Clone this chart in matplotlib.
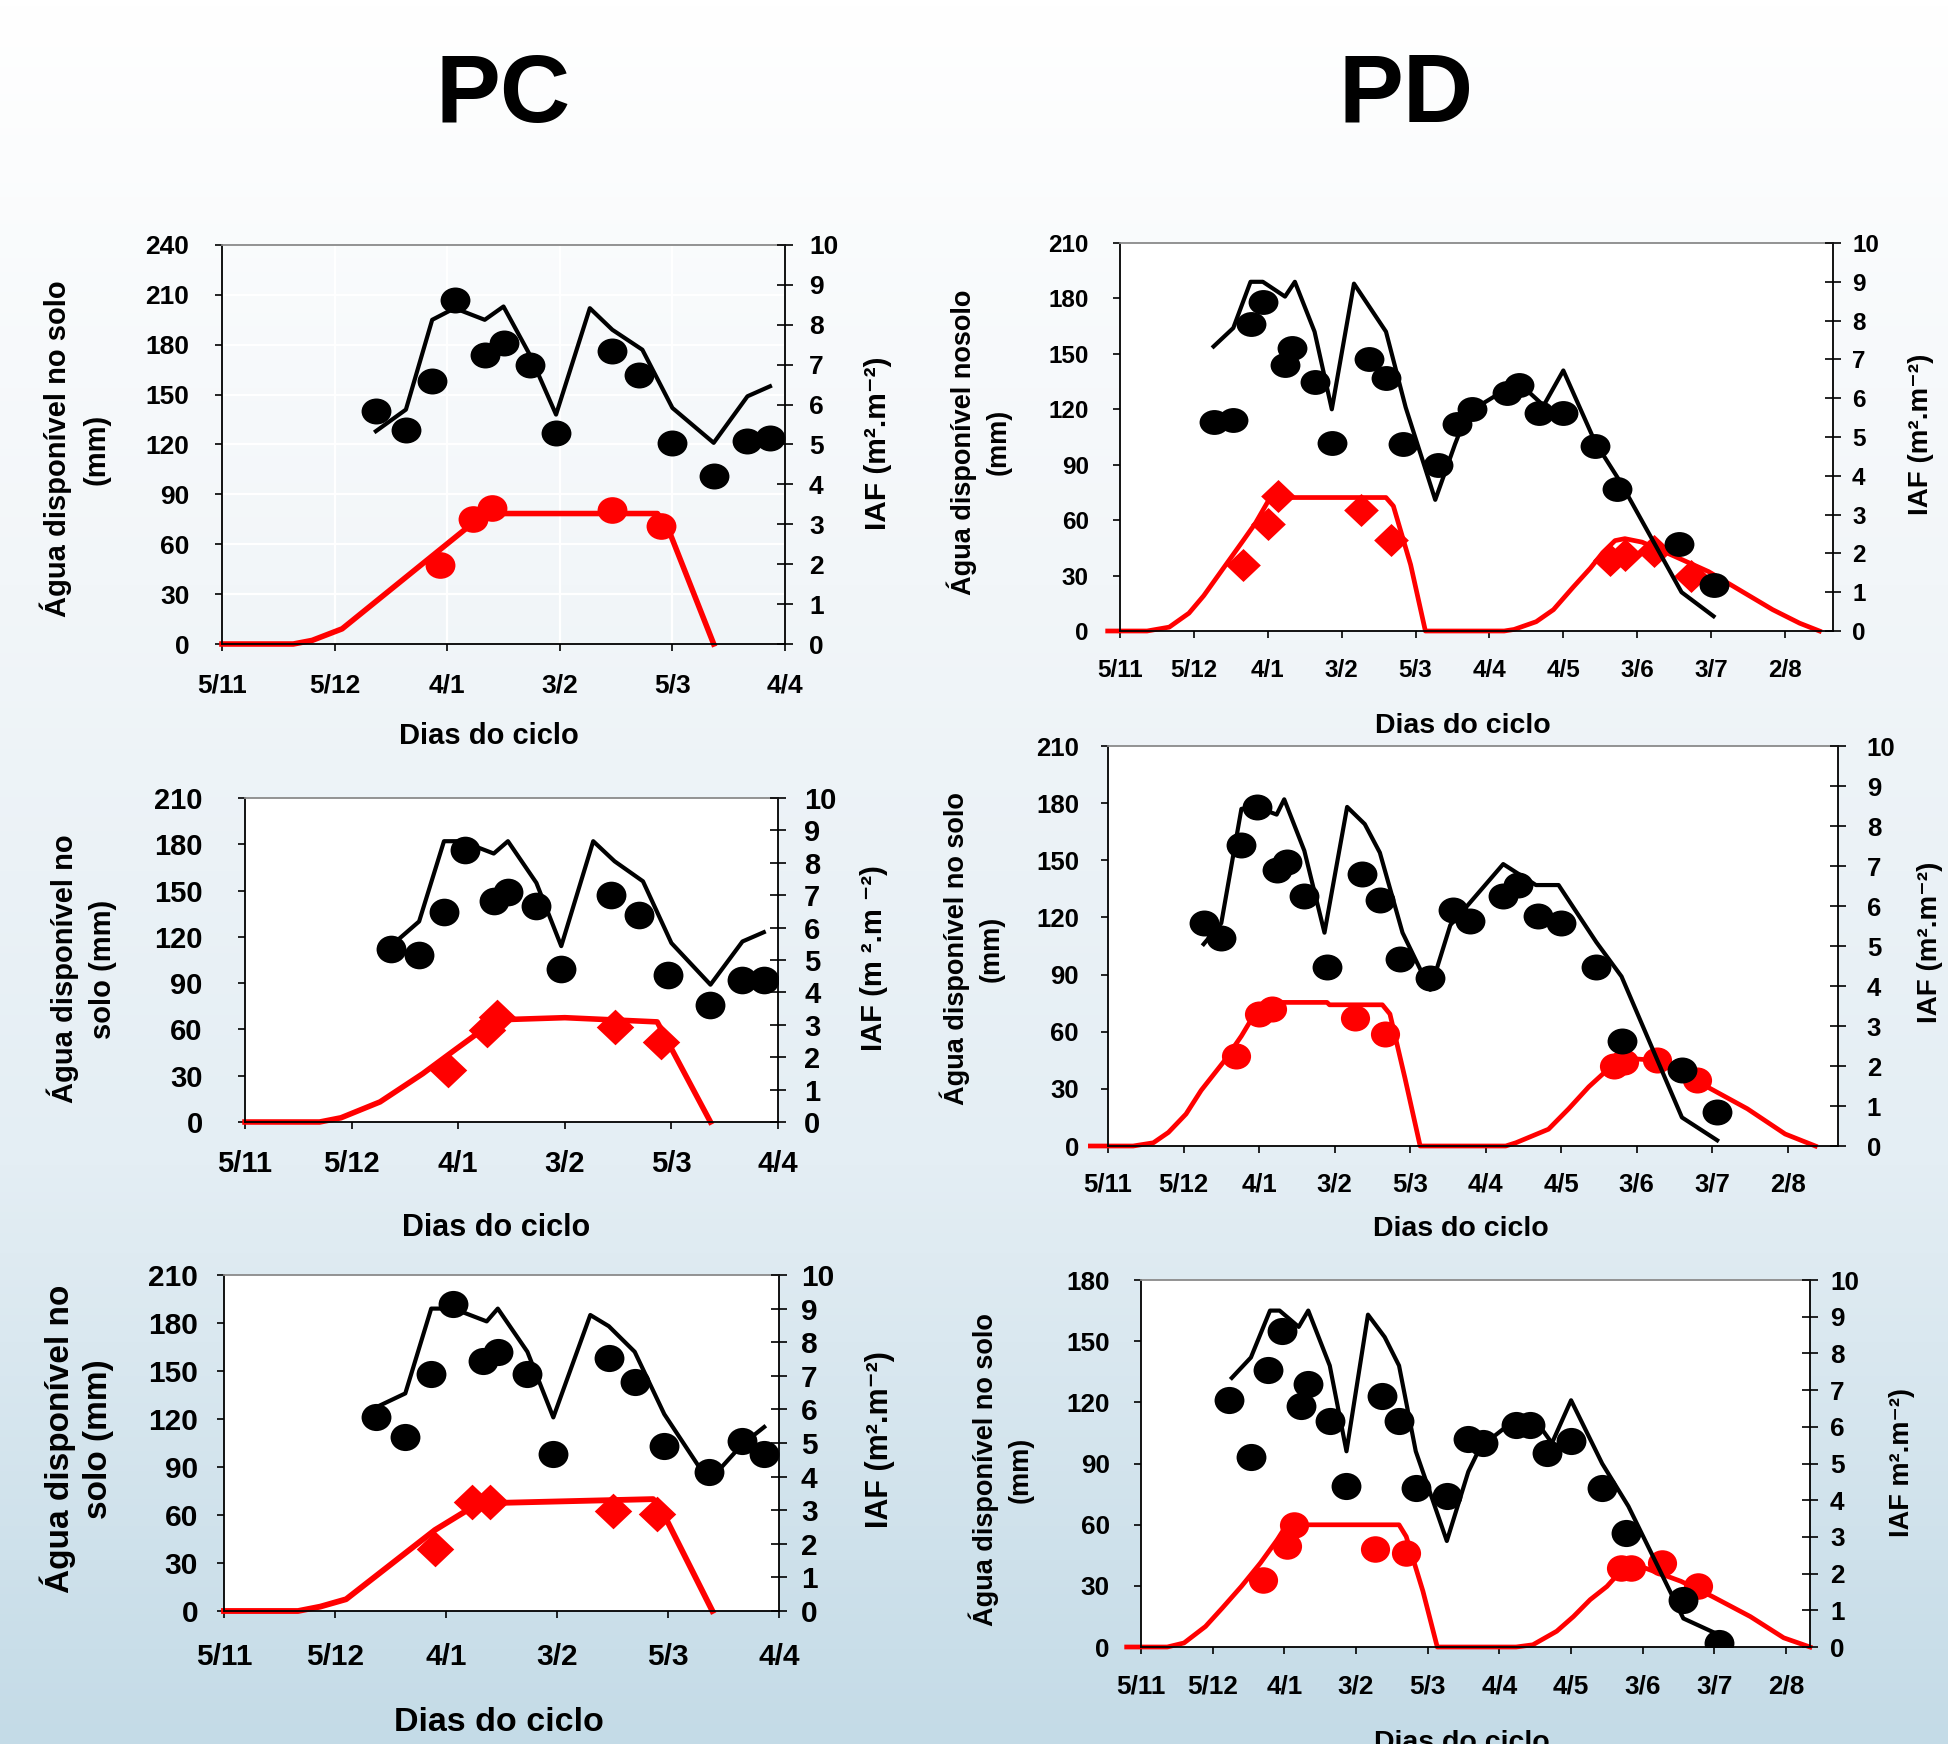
import matplotlib.pyplot as plt
import numpy as np
from matplotlib.colors import LinearSegmentedColormap
from matplotlib.path import Path
from matplotlib.transforms import Affine2D

plt.rcParams['font.family'] = ['Liberation Sans', 'DejaVu Sans']
plt.rcParams['font.weight'] = 'bold'

W, H = 1948, 1744

# eixo x em dias a partir de 5/11, um rotulo a cada 30 dias
pc_labels = ['5/11', '5/12', '4/1', '3/2', '5/3', '4/4']
pd_labels = ['5/11', '5/12', '4/1', '3/2', '5/3', '4/4', '4/5', '3/6', '3/7', '2/8']

# ---------------- PC, painel 1 ----------------
pc1_agua_sim_x = [41, 49, 56, 62, 70, 75, 82, 89, 98, 104, 112, 120, 131, 140, 146]
pc1_agua_sim_y = [128, 141, 195, 202, 195, 203, 174, 138, 202, 189, 177, 142, 121, 149, 155]
pc1_agua_obs_x = [41, 49, 56, 62, 70, 75, 82, 89, 104, 111, 120, 131, 140, 146]
pc1_agua_obs_y = [140, 129, 158, 207, 174, 181, 168, 127, 176, 162, 121, 101, 122, 124]
pc1_iaf_sim_x = [0, 19, 24, 32, 68, 71, 116, 119, 131]
pc1_iaf_sim_y = [0, 0, 0.09, 0.38, 3.12, 3.27, 3.27, 2.86, 0]
pc1_iaf_obs_x = [58, 67, 72, 104, 117]
pc1_iaf_obs_y = [1.98, 3.14, 3.41, 3.35, 2.95]

# ---------------- PC, painel 2 ----------------
pc2_agua_sim_x = [41, 49, 56, 61, 70, 74, 82, 89, 98, 104, 112, 120, 131, 140, 146]
pc2_agua_sim_y = [114, 130, 182, 182, 174, 182, 155, 114, 182, 169, 156, 116, 89, 117, 123]
pc2_agua_obs_x = [41, 49, 56, 62, 70, 74, 82, 89, 103, 111, 119, 131, 140, 146]
pc2_agua_obs_y = [112, 108, 136, 176, 143, 149, 140, 99, 147, 134, 95, 76, 92, 92]
pc2_iaf_sim_x = [0, 21, 27, 38, 50, 59, 68, 73, 90, 116, 131]
pc2_iaf_sim_y = [0, 0, 0.13, 0.62, 1.49, 2.22, 2.94, 3.16, 3.22, 3.09, 0]
pc2_iaf_obs_x = [57, 68, 71, 104, 117]
pc2_iaf_obs_y = [1.62, 2.84, 3.23, 2.94, 2.47]

# ---------------- PC, painel 3 ----------------
pc3_agua_sim_x = [39, 49, 56, 62, 71, 74, 82, 89, 99, 104, 111, 119, 131, 140, 146]
pc3_agua_sim_y = [125, 136, 189, 189, 181, 189, 162, 121, 185, 178, 162, 123, 81, 104, 115]
pc3_agua_obs_x = [41, 49, 56, 62, 70, 74, 82, 89, 104, 111, 119, 131, 140, 146]
pc3_agua_obs_y = [121, 109, 148, 192, 156, 162, 148, 98, 158, 143, 103, 87, 106, 98]
pc3_iaf_sim_x = [0, 20, 26, 33, 57, 65, 68, 116, 119, 132]
pc3_iaf_sim_y = [0, 0, 0.13, 0.35, 2.41, 2.95, 3.20, 3.33, 2.85, 0]
pc3_iaf_obs_x = [57, 67, 72, 105, 117]
pc3_iaf_obs_y = [1.86, 3.25, 3.25, 2.98, 2.90]

# ---------------- PD, painel 1 ----------------
pd1_agua_sim_x = [38, 46, 53, 58, 67, 71, 79, 86, 95, 108, 116, 128, 136, 141, 157, 163, 172, 180,
                  193, 203, 228, 241]
pd1_agua_sim_y = [154, 164, 189, 189, 181, 189, 162, 120, 188, 162, 121, 71, 101, 118, 131, 133, 122, 141,
                  102, 81, 21, 8]
pd1_agua_obs_x = [38, 46, 53, 58, 67, 70, 79, 86, 101, 108, 115, 129, 137, 143, 157, 162, 170, 180,
                  193, 202, 227, 241]
pd1_agua_obs_y = [113, 114, 166, 178, 144, 153, 135, 102, 147, 137, 101, 90, 112, 120, 129, 133, 118, 118,
                  100, 77, 47, 25]
pd1_iaf_sim_x = [-5, 11, 20, 28, 34, 42, 50, 55, 60, 64, 108, 111, 118, 124, 156, 160, 169, 176, 184,
                 191, 196, 201, 205, 212, 225, 239, 252, 265, 276, 284]
pd1_iaf_sim_y = [0, 0, 0.1, 0.46, 0.91, 1.62, 2.33, 2.78, 3.33, 3.44, 3.44, 3.22, 1.71, 0, 0, 0.04, 0.24,
                 0.55, 1.13, 1.62, 2.02, 2.33, 2.38, 2.29, 1.93, 1.53, 1.04, 0.55, 0.20, 0]
pd1_iaf_obs_x = [50, 60, 64, 98, 110, 199, 205, 217, 232]
pd1_iaf_obs_y = [1.69, 2.76, 3.49, 3.11, 2.35, 1.84, 1.96, 2.05, 1.42]

# ---------------- PD, painel 2 ----------------
pd2_agua_sim_x = [38, 45, 53, 59, 67, 70, 78, 86, 95, 102, 108, 117, 128, 136, 142, 157, 170, 179,
                  194, 204, 228, 242]
pd2_agua_sim_y = [106, 117, 177, 178, 174, 182, 155, 112, 178, 169, 154, 112, 82, 116, 125, 148, 137, 137,
                  107, 89, 15, 3]
pd2_agua_obs_x = [38, 45, 53, 59, 67, 71, 78, 87, 101, 108, 116, 128, 137, 144, 157, 163, 171, 180,
                  194, 204, 228, 242]
pd2_agua_obs_y = [117, 109, 158, 178, 145, 149, 131, 94, 143, 129, 98, 88, 124, 118, 131, 137, 121, 117,
                  94, 55, 40, 18]
pd2_iaf_sim_x = [-7, 10, 18, 24, 31, 37, 46, 53, 59, 63, 87, 88, 109, 112, 118, 124, 158, 162, 175, 183,
                 191, 199, 204, 216, 238, 254, 269, 281]
pd2_iaf_sim_y = [0, 0, 0.08, 0.34, 0.80, 1.39, 2.11, 2.75, 3.38, 3.59, 3.59, 3.53, 3.53, 3.30, 1.69, 0, 0,
                 0.08, 0.42, 0.93, 1.48, 1.94, 2.20, 2.15, 1.48, 0.93, 0.30, 0]
pd2_iaf_obs_x = [51, 60, 65, 98, 110, 201, 205, 218, 234]
pd2_iaf_obs_y = [2.24, 3.30, 3.42, 3.20, 2.81, 2.01, 2.10, 2.16, 1.65]

# ---------------- PD, painel 3 ----------------
pd3_agua_sim_x = [38, 46, 54, 58, 66, 70, 79, 86, 95, 102, 108, 115, 128, 137, 142, 156, 164, 172, 180,
                  193, 204, 227, 240]
pd3_agua_sim_y = [132, 142, 165, 165, 157, 165, 138, 96, 163, 152, 138, 96, 52, 86, 98, 111, 113, 100, 121,
                  90, 69, 14, 7]
pd3_agua_obs_x = [37, 46, 53, 59, 67, 70, 79, 86, 101, 108, 115, 128, 137, 143, 157, 163, 170, 180,
                  193, 203, 227, 242]
pd3_agua_obs_y = [121, 93, 136, 155, 118, 129, 111, 79, 123, 111, 78, 74, 102, 100, 109, 109, 95, 101,
                  78, 56, 23, 2]
pd3_iaf_sim_x = [-6, 11, 18, 27, 34, 42, 50, 57, 61, 108, 111, 118, 124, 157, 164, 174, 181, 188, 195,
                 200, 204, 211, 226, 239, 255, 269, 280]
pd3_iaf_sim_y = [0, 0, 0.11, 0.56, 1.06, 1.65, 2.29, 2.92, 3.33, 3.33, 3.01, 1.52, 0, 0, 0.06, 0.43, 0.83,
                 1.29, 1.65, 2.01, 2.11, 2.15, 1.79, 1.38, 0.83, 0.25, 0]
pd3_iaf_obs_x = [51, 61, 64, 98, 111, 201, 205, 218, 233]
pd3_iaf_obs_y = [1.83, 2.74, 3.33, 2.68, 2.56, 2.15, 2.15, 2.29, 1.65]


def ellipse(ratio):
    return Path.unit_circle().transformed(Affine2D().scale(ratio, 1))


diamond = Path([(0, 0.95), (1, 0), (0, -0.95), (-1, 0), (0, 0.95)],
               [Path.MOVETO, Path.LINETO, Path.LINETO, Path.LINETO, Path.CLOSEPOLY])

fig = plt.figure(figsize=(W / 100, H / 100), dpi=100)

# fundo em degrade (branco -> azul claro)
bg = fig.add_axes([0, 0, 1, 1], zorder=-10)
cmap = LinearSegmentedColormap.from_list('fundo', ['#ffffff', '#f2f6f9', '#e4eef4', '#c4dbe7'])
bg.imshow(np.linspace(0, 1, 256)[:, None], aspect='auto', cmap=cmap, extent=[0, 1, 0, 1], origin='upper')
bg.axis('off')

fig.text(503 / W, 1 - 122 / H, 'PC', fontsize=70, ha='center', va='baseline')
fig.text(1406 / W, 1 - 122 / H, 'PD', fontsize=70, ha='center', va='baseline')


def painel(box, ymax, labels, xmax, agua_sim, agua_obs, iaf_sim, iaf_obs, st):
    l, r, t, b = box
    ax = fig.add_axes([l / W, 1 - b / H, (r - l) / W, (b - t) / H])
    ax2 = ax.twinx()
    ax2.set_ylim(0, 10)
    ax2.set_yticks(range(0, 11))
    ax2.patch.set_visible(False)
    ax.set_ylim(0, ymax)
    ax.set_yticks(range(0, ymax + 1, 30))
    ax.set_xlim(0, xmax)
    ax.set_xticks(range(0, 30 * len(labels), 30))
    ax.set_xticklabels(labels)

    if st.get('grid'):
        # painel sem fundo branco, com grade branca
        ax.patch.set_visible(False)
        ax.grid(True, color='white', lw=1.6)
        ax.set_axisbelow(True)
    else:
        ax.patch.set_facecolor('white')

    # IAF: desenhado no eixo da esquerda, na escala do eixo da direita
    ax.plot(iaf_sim[0], iaf_sim[1], color='#ff0000', lw=st['lw_red'], clip_on=False,
            transform=ax2.transData, zorder=2)
    ax.plot(iaf_obs[0], iaf_obs[1], ls='none', marker=st['red_marker'], ms=st['ms_red'],
            color='#ff0000', mew=0, transform=ax2.transData, zorder=2.1)

    # agua disponivel
    ax.plot(agua_sim[0], agua_sim[1], color='black', lw=3.0, zorder=2.2)
    ax.plot(agua_obs[0], agua_obs[1], ls='none', marker=ellipse(st['ratio']), ms=21.5,
            color='black', mew=0, zorder=2.3)
    ax.set_ylim(0, ymax)
    ax.set_xlim(0, xmax)

    for s in ax2.spines.values():
        s.set_visible(False)
    for k in ['left', 'right', 'bottom']:
        ax.spines[k].set_color('black')
        ax.spines[k].set_linewidth(1.3)
    ax.spines['top'].set_color('#8a8a8a')
    ax.spines['top'].set_linewidth(1.3)

    fs = st['fs']
    pl, pb, pr = st['pads']
    ax.tick_params(axis='y', direction='out', length=5.4, width=1.2, labelsize=fs, pad=pl)
    ax.tick_params(axis='x', direction='out', length=5, width=1.2, labelsize=fs, pad=pb)
    ax2.tick_params(axis='y', direction='inout', length=11.5, width=1.2, labelsize=fs, pad=pr)

    x, y = st['ylab_pos']
    fig.text(x / W, 1 - y / H, st['ylab'], rotation=90, ha='center', va='center',
             multialignment='center', fontsize=st['ylab_fs'], linespacing=st['ls'])
    x, y = st['xlab_pos']
    fig.text(x / W, 1 - y / H, 'Dias do ciclo', ha='center', va='baseline', fontsize=st['xlab_fs'])
    x, y = st['rlab_pos']
    fig.text(x / W, 1 - y / H, st['rlab'], rotation=90, ha='center', va='center', fontsize=st['rlab_fs'])


painel((222, 785, 245, 644), 240, pc_labels, 150,
       (pc1_agua_sim_x, pc1_agua_sim_y), (pc1_agua_obs_x, pc1_agua_obs_y),
       (pc1_iaf_sim_x, pc1_iaf_sim_y), (pc1_iaf_obs_x, pc1_iaf_obs_y),
       dict(lw_red=4.0, red_marker=ellipse(1.12), ms_red=21.5, ratio=1.15, grid=True,
            fs=19, pads=(18, 16, 11.5),
            ylab='Água disponível no solo\n(mm)', ylab_fs=21, ylab_pos=(75, 449), ls=1.5,
            xlab_pos=(489, 744), xlab_fs=21,
            rlab='IAF (m².m⁻²)', rlab_pos=(878, 443), rlab_fs=21.5))

painel((1120, 1833, 243, 631), 210, pd_labels, 289.5,
       (pd1_agua_sim_x, pd1_agua_sim_y), (pd1_agua_obs_x, pd1_agua_obs_y),
       (pd1_iaf_sim_x, pd1_iaf_sim_y), (pd1_iaf_obs_x, pd1_iaf_obs_y),
       dict(lw_red=3.4, red_marker=diamond, ms_red=25, ratio=1.2,
            fs=17.5, pads=(17, 15, 8),
            ylab='Água disponível nosolo\n(mm)', ylab_fs=19.5, ylab_pos=(979, 442), ls=1.45,
            xlab_pos=(1463, 733), xlab_fs=20.5,
            rlab='IAF (m².m⁻²)', rlab_pos=(1921, 434), rlab_fs=20))

painel((245, 778, 798, 1122), 210, pc_labels, 150,
       (pc2_agua_sim_x, pc2_agua_sim_y), (pc2_agua_obs_x, pc2_agua_obs_y),
       (pc2_iaf_sim_x, pc2_iaf_sim_y), (pc2_iaf_obs_x, pc2_iaf_obs_y),
       dict(lw_red=4.0, red_marker=diamond, ms_red=27, ratio=1.08,
            fs=21, pads=(25, 15, 13),
            ylab='Água disponível no\nsolo (mm)', ylab_fs=21, ylab_pos=(82, 969), ls=1.45,
            xlab_pos=(496, 1236), xlab_fs=22,
            rlab='IAF (m ².m ⁻²)', rlab_pos=(874, 958), rlab_fs=21))

painel((1108, 1838, 746, 1146), 210, pd_labels, 290,
       (pd2_agua_sim_x, pd2_agua_sim_y), (pd2_agua_obs_x, pd2_agua_obs_y),
       (pd2_iaf_sim_x, pd2_iaf_sim_y), (pd2_iaf_obs_x, pd2_iaf_obs_y),
       dict(lw_red=3.4, red_marker=ellipse(1.12), ms_red=21, ratio=1.15,
            fs=18.5, pads=(15.5, 14.4, 15),
            ylab='Água disponível no solo\n(mm)', ylab_fs=19.5, ylab_pos=(972, 949), ls=1.45,
            xlab_pos=(1461, 1236), xlab_fs=20.5,
            rlab='IAF (m².m⁻²)', rlab_pos=(1930, 942), rlab_fs=20))

painel((224, 779, 1275, 1611), 210, pc_labels, 150,
       (pc3_agua_sim_x, pc3_agua_sim_y), (pc3_agua_obs_x, pc3_agua_obs_y),
       (pc3_iaf_sim_x, pc3_iaf_sim_y), (pc3_iaf_obs_x, pc3_iaf_obs_y),
       dict(lw_red=4.2, red_marker=diamond, ms_red=27, ratio=1.1,
            fs=21.5, pads=(13.3, 17.8, 10),
            ylab='Água disponível no\nsolo (mm)', ylab_fs=24, ylab_pos=(77, 1439), ls=1.3,
            xlab_pos=(499, 1731), xlab_fs=24.5,
            rlab='IAF (m².m⁻²)', rlab_pos=(880, 1440), rlab_fs=22))

painel((1141, 1810, 1280, 1647), 180, pd_labels, 280,
       (pd3_agua_sim_x, pd3_agua_sim_y), (pd3_agua_obs_x, pd3_agua_obs_y),
       (pd3_iaf_sim_x, pd3_iaf_sim_y), (pd3_iaf_obs_x, pd3_iaf_obs_y),
       dict(lw_red=3.4, red_marker=ellipse(1.1), ms_red=21, ratio=1.1,
            fs=18.8, pads=(17, 14.9, 8.6),
            ylab='Água disponível no solo\n(mm)', ylab_fs=19.5, ylab_pos=(1001, 1470), ls=1.45,
            xlab_pos=(1462, 1750), xlab_fs=20.5,
            rlab='IAF m².m⁻²)', rlab_pos=(1902, 1462), rlab_fs=19.5))

fig.savefig('out.png', dpi=100)
